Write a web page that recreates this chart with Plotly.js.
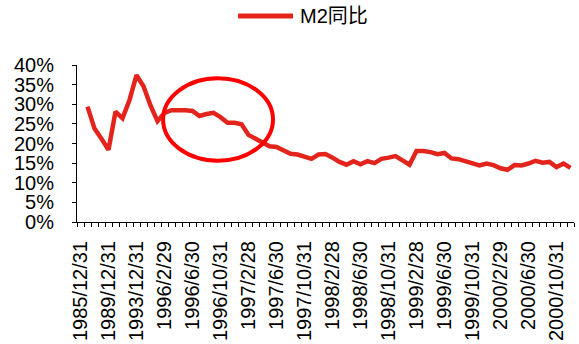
<!DOCTYPE html>
<html>
<head>
<meta charset="utf-8">
<script src="https://cdn.plot.ly/plotly-3.0.1.min.js"></script>
<style>
  html, body { margin: 0; padding: 0; background: #fff; }
  #chart { width: 579px; height: 344px; }
</style>
</head>
<body>
<div id="chart"></div>
<script>
// Year-end points 1985-1995, then month-end points 1996-2000
const categories = [
  "1985/12/31", "1986/12/31", "1987/12/31", "1988/12/31", "1989/12/31", "1990/12/31",
  "1991/12/31", "1992/12/31", "1993/12/31", "1994/12/31", "1995/12/31",
  "1996/1/31", "1996/2/29", "1996/3/31", "1996/4/30", "1996/5/31", "1996/6/30",
  "1996/7/31", "1996/8/31", "1996/9/30", "1996/10/31", "1996/11/30", "1996/12/31",
  "1997/1/31", "1997/2/28", "1997/3/31", "1997/4/30", "1997/5/31", "1997/6/30",
  "1997/7/31", "1997/8/31", "1997/9/30", "1997/10/31", "1997/11/30", "1997/12/31",
  "1998/1/31", "1998/2/28", "1998/3/31", "1998/4/30", "1998/5/31", "1998/6/30",
  "1998/7/31", "1998/8/31", "1998/9/30", "1998/10/31", "1998/11/30", "1998/12/31",
  "1999/1/31", "1999/2/28", "1999/3/31", "1999/4/30", "1999/5/31", "1999/6/30",
  "1999/7/31", "1999/8/31", "1999/9/30", "1999/10/31", "1999/11/30", "1999/12/31",
  "2000/1/31", "2000/2/29", "2000/3/31", "2000/4/30", "2000/5/31", "2000/6/30",
  "2000/7/31", "2000/8/31", "2000/9/30", "2000/10/31", "2000/11/30", "2000/12/31"
];

// M2 year-on-year growth, percent
const m2Yoy = [
  null, 29.4, 23.8, 21.2, 18.4, 28.1, 26.4, 31.1, 37.4, 34.6, 29.7,
  25.7, 27.8, 28.5, 28.6, 28.5, 28.3, 27.0, 27.5, 27.8, 26.7, 25.3, 25.3,
  24.9, 22.2, 21.3, 20.3, 19.3, 19.1, 18.3, 17.4, 17.2, 16.7, 16.1, 17.2,
  17.3, 16.4, 15.3, 14.6, 15.5, 14.7, 15.5, 15.0, 16.1, 16.4, 16.8, 15.7,
  14.6, 18.1, 18.1, 17.8, 17.3, 17.6, 16.2, 16.0, 15.4, 14.7, 14.4, 14.9,
  14.5, 13.7, 13.3, 14.5, 14.4, 14.9, 15.6, 15.1, 15.3, 14.0, 14.9, 13.8
];

const seriesName = "M2同比";
const yTicks = [0, 5, 10, 15, 20, 25, 30, 35, 40];

// every fourth category carries a label
const tickText = categories.map((c, i) => (i % 4 === 0 ? c : ""));

const lineColor = "#E3241C";
const font = "Liberation Sans, Arial, Noto Sans CJK SC, sans-serif";

const trace = {
  type: "scatter",
  mode: "lines",
  x: categories,
  y: m2Yoy,
  name: seriesName,
  showlegend: false,
  line: { color: lineColor, width: 4.5 },
  connectgaps: false,
  hoverinfo: "x+y"
};

const layout = {
  width: 579,
  height: 344,
  margin: { l: 77, r: 5, t: 65, b: 122, pad: 0 },
  paper_bgcolor: "#fff",
  plot_bgcolor: "#fff",
  font: { family: font, size: 20, color: "#000" },
  showlegend: false,
  xaxis: {
    type: "category",
    categoryorder: "array",
    categoryarray: categories,
    range: [-0.5, categories.length - 0.5],
    tickmode: "array",
    tickvals: categories,
    ticktext: tickText,
    tickson: "boundaries",
    ticks: "outside",
    ticklen: 4,
    tickwidth: 1,
    tickcolor: "#000",
    tickangle: -90,
    ticklabelstandoff: 10,
    tickfont: { family: font, size: 20, color: "#000" },
    showline: true,
    linecolor: "#000",
    linewidth: 1,
    showgrid: false,
    zeroline: false,
    fixedrange: true
  },
  yaxis: {
    range: [0, 40],
    tickmode: "array",
    tickvals: yTicks,
    ticktext: yTicks.map(v => v + "%"),
    ticks: "outside",
    ticklen: 4,
    tickwidth: 1,
    tickcolor: "#000",
    ticklabelstandoff: 14,
    tickfont: { family: font, size: 20, color: "#000" },
    showline: true,
    linecolor: "#000",
    linewidth: 1,
    showgrid: false,
    zeroline: false,
    fixedrange: true
  },
  shapes: [
    // highlight ring around the 1996 plateau
    {
      type: "circle",
      xref: "x", yref: "y",
      x0: 11.8, x1: 27.5,
      y0: 15.6, y1: 36.6,
      line: { color: "#FF0000", width: 4 },
      fillcolor: "rgba(0,0,0,0)"
    },
    // legend sample line
    {
      type: "line",
      xref: "paper", yref: "paper",
      x0: 0.324, x1: 0.4346,
      y0: 1.312, y1: 1.312,
      line: { color: lineColor, width: 5 }
    }
  ],
  annotations: [
    {
      xref: "paper", yref: "paper",
      x: 0.4447, y: 1.312,
      xanchor: "left", yanchor: "middle",
      text: seriesName,
      showarrow: false,
      font: { family: font, size: 20, color: "#000" }
    }
  ]
};

Plotly.newPlot("chart", [trace], layout, { staticPlot: true, displayModeBar: false });
</script>
</body>
</html>
